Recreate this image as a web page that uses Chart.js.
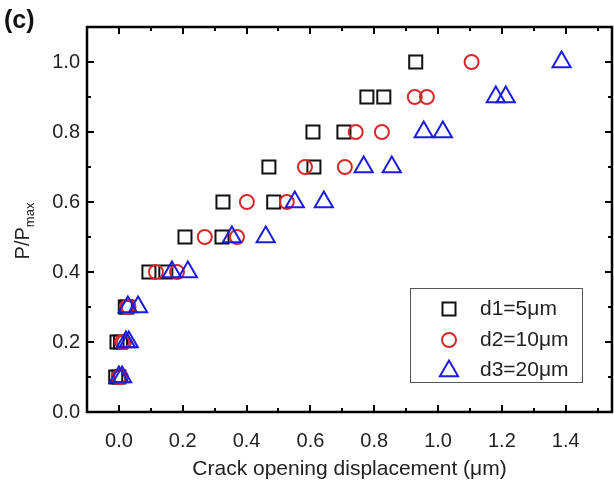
<!DOCTYPE html>
<html>
<head>
<meta charset="utf-8">
<script src="https://cdn.jsdelivr.net/npm/chart.js@4/dist/chart.umd.min.js"></script>
<style>
html,body{margin:0;padding:0;background:#fff;}
#wrap{width:614px;height:486px;position:relative;}
</style>
</head>
<body>
<div id="wrap"><canvas id="c" width="614" height="486"></canvas></div>
<script>
// ---- data ----
const seriesNames = ['d1=5\u03bcm', 'd2=10\u03bcm', 'd3=20\u03bcm'];
const yLevels = [1.0, 0.9, 0.9, 0.8, 0.8, 0.7, 0.7, 0.6, 0.6, 0.5, 0.5, 0.4, 0.4, 0.3, 0.3, 0.2, 0.2, 0.1, 0.1];
const d1X = [0.93, 0.777, 0.83, 0.608, 0.705, 0.47, 0.611, 0.326, 0.485, 0.207, 0.323, 0.094, 0.147, 0.02, 0.025, -0.006, 0.005, -0.01, 0.0];
const d2X = [1.105, 0.927, 0.965, 0.742, 0.824, 0.583, 0.708, 0.401, 0.526, 0.269, 0.370, 0.116, 0.182, 0.025, 0.03, 0.01, 0.016, 0.0, 0.006];
const d3X = [1.387, 1.181, 1.212, 0.955, 1.015, 0.767, 0.855, 0.551, 0.642, 0.354, 0.460, 0.166, 0.216, 0.028, 0.06, 0.022, 0.031, 0.0, 0.01];
const xTicks = [0.0, 0.2, 0.4, 0.6, 0.8, 1.0, 1.2, 1.4];
const xMinorTicks = [-0.1, 0.1, 0.3, 0.5, 0.7, 0.9, 1.1, 1.3, 1.5];
const yTicks = [0.0, 0.2, 0.4, 0.6, 0.8, 1.0];
const yMinorTicks = [0.1, 0.3, 0.5, 0.7, 0.9];

const FONT = "'Liberation Sans', Arial, sans-serif";
const colors = ['#111111', '#d42a2a', '#1c1ce0'];
const styles = ['rect', 'circle', 'triangle'];
const radii = [9.2, 7, 10.5];

function pts(xs){ return xs.map((x,i)=>({x:x, y:yLevels[i]})); }

const framePlugin = {
  id: 'frame',
  afterDatasetsDraw(chart){
    const ctx = chart.ctx, a = chart.chartArea;
    const xs = chart.scales.x, ys = chart.scales.y;
    ctx.save();
    ctx.strokeStyle = '#000';
    ctx.lineWidth = 2;
    ctx.beginPath();
    const drawX = (vals, len) => vals.forEach(v => {
      const p = Math.round(xs.getPixelForValue(v));
      if (p < a.left+1 || p > a.right-1) return;
      ctx.moveTo(p, a.bottom); ctx.lineTo(p, a.bottom - len);
      ctx.moveTo(p, a.top); ctx.lineTo(p, a.top + len);
    });
    const drawY = (vals, len) => vals.forEach(v => {
      const p = Math.round(ys.getPixelForValue(v));
      if (p < a.top+1 || p > a.bottom-1) return;
      ctx.moveTo(a.left, p); ctx.lineTo(a.left + len, p);
      ctx.moveTo(a.right, p); ctx.lineTo(a.right - len, p);
    });
    drawX(xTicks, 7); drawX(xMinorTicks, 4);
    drawY(yTicks, 7); drawY(yMinorTicks, 4);
    ctx.stroke();
    ctx.lineWidth = 2.5;
    ctx.strokeRect(a.left, a.top, a.right - a.left, a.bottom - a.top);

    // y title with subscript
    ctx.save();
    ctx.translate(29, 231);
    ctx.rotate(-Math.PI/2);
    ctx.fillStyle = '#222';
    ctx.textBaseline = 'alphabetic';
    ctx.font = '20px ' + FONT;
    const main = 'P/P';
    const w1 = ctx.measureText(main).width;
    ctx.font = '13px ' + FONT;
    const w2 = ctx.measureText('max').width;
    const x0 = -(w1 + w2)/2;
    ctx.font = '20px ' + FONT;
    ctx.fillText(main, x0, 0);
    ctx.font = '13px ' + FONT;
    ctx.fillText('max', x0 + w1, 5);
    ctx.restore();

    // panel label
    ctx.fillStyle = '#111';
    ctx.font = 'bold 25px ' + FONT;
    ctx.textBaseline = 'middle';
    ctx.textAlign = 'left';
    ctx.fillText('(c)', 4, 21);

    // legend
    const lx = 410, ly = 288, lw = 172, lh = 94;
    ctx.fillStyle = '#fff';
    ctx.fillRect(lx, ly, lw, lh);
    ctx.lineWidth = 1;
    ctx.strokeStyle = '#555';
    ctx.strokeRect(lx + 0.5, ly + 0.5, lw, lh);
    const rows = [309, 340, 370];
    chart.data.datasets.forEach((ds, i) => {
      ctx.save();
      ctx.strokeStyle = ds.borderColor;
      ctx.fillStyle = 'rgba(0,0,0,0)';
      ctx.lineWidth = 2;
      const r = ds.pointRadius;
      const cy = i === 2 ? rows[i] + 1 : rows[i];
      Chart.helpers.drawPoint(ctx, {pointStyle: ds.pointStyle, radius: r, borderWidth: 2, rotation: 0}, 449, cy);
      ctx.restore();
      ctx.fillStyle = '#222';
      ctx.font = '21px ' + FONT;
      ctx.textBaseline = 'middle';
      ctx.textAlign = 'left';
      ctx.fillText(ds.label, 480, rows[i]);
    });
    ctx.restore();
  }
};

new Chart(document.getElementById('c'), {
  type: 'scatter',
  data: {
    datasets: [0,1,2].map(i => ({
      label: seriesNames[i],
      data: pts([d1X, d2X, d3X][i]),
      pointStyle: styles[i],
      pointRadius: radii[i],
      pointHoverRadius: radii[i],
      borderColor: colors[i],
      backgroundColor: 'rgba(0,0,0,0)',
      pointBorderWidth: 2,
      borderWidth: 2,
      order: 3 - i
    }))
  },
  options: {
    responsive: false,
    animation: false,
    devicePixelRatio: 1,
    layout: { autoPadding: false, padding: { top: 27, right: 2, left: 0, bottom: 0 } },
    plugins: { legend: { display: false }, tooltip: { enabled: false } },
    scales: {
      x: {
        type: 'linear', min: -0.1, max: 1.545,
        grid: { display: false, drawTicks: false },
        border: { display: false },
        afterBuildTicks: s => { s.ticks = xTicks.map(v => ({value: v})); },
        afterFit: s => { s.height = 74; s.paddingLeft = 0; s.paddingRight = 0; },
        ticks: { padding: 17, color: '#222', font: { family: FONT, size: 20 }, callback: v => Number(v).toFixed(1), maxRotation: 0, autoSkip: false },
        title: { display: true, text: 'Crack opening displacement (\u03bcm)', color: '#222', font: { family: FONT, size: 21 }, padding: { top: 0, bottom: 4 } }
      },
      y: {
        type: 'linear', min: 0, max: 1.1,
        grid: { display: false, drawTicks: false },
        border: { display: false },
        afterBuildTicks: s => { s.ticks = yTicks.map(v => ({value: v})); },
        afterFit: s => { s.width = 87; s.paddingTop = 0; s.paddingBottom = 0; },
        ticks: { padding: 7, color: '#222', font: { family: FONT, size: 20 }, callback: v => Number(v).toFixed(1), autoSkip: false }
      }
    }
  },
  plugins: [framePlugin]
});
</script>
</body>
</html>
